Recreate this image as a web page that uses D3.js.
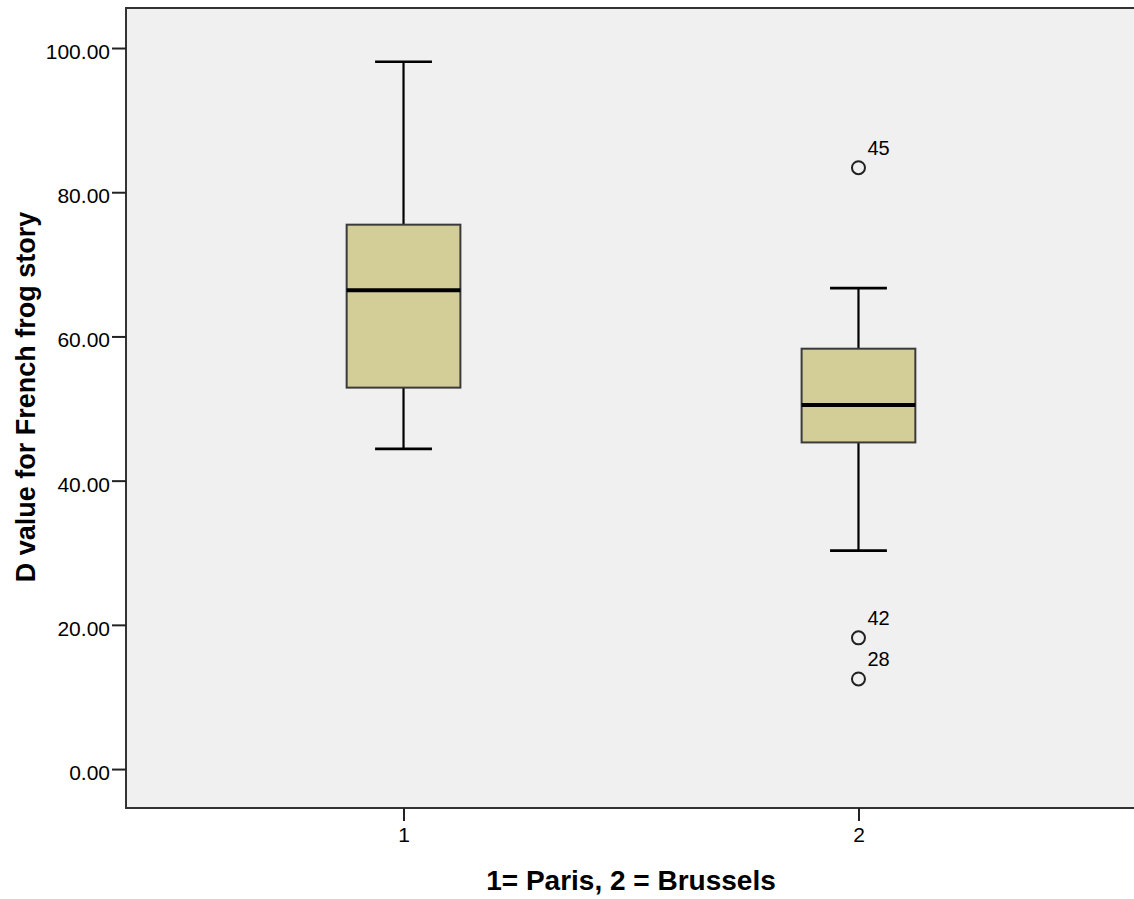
<!DOCTYPE html>
<html>
<head>
<meta charset="utf-8">
<script src="https://cdn.jsdelivr.net/npm/d3@7"></script>
<style>
  html, body { margin: 0; padding: 0; background: #ffffff; }
  svg { display: block; }
  text { font-family: "Liberation Sans", Arial, sans-serif; fill: #000; }
</style>
</head>
<body>
<svg id="chart" width="1134" height="899"></svg>
<script>
// ---- data ----
const categories = ["1", "2"];
const whiskerLow = [44.4, 30.3];
const q1 = [52.9, 45.3];
const median = [66.4, 50.5];
const q3 = [75.5, 58.3];
const whiskerHigh = [98.1, 66.7];
const outlierCats = ["2", "2", "2"];
const outlierValues = [83.4, 18.2, 12.5];
const outlierIds = ["45", "42", "28"];
const yTicks = [0, 20, 40, 60, 80, 100];
const xTitle = "1= Paris, 2 = Brussels";
const yTitle = "D value for French frog story";

// ---- layout ----
const svg = d3.select("#chart");
const pLeft = 126, pRight = 1136, pTop = 8, pBottom = 808;

const x = d3.scalePoint().domain(categories).range([pLeft, pRight]).padding(0.61);
const y = d3.scaleLinear().domain([-5.4, 105.55]).range([pBottom, pTop]);
const step = x.step();
const boxW = step * 0.25;
const capW = step * 0.125;

// plot background
svg.append("rect")
  .attr("x", pLeft).attr("y", pTop)
  .attr("width", pRight - pLeft).attr("height", pBottom - pTop)
  .attr("fill", "#f0f0f0");

const g = svg.append("g");

categories.forEach((c, i) => {
  const cx = x(c);
  g.append("line")
    .attr("x1", cx).attr("x2", cx)
    .attr("y1", y(whiskerHigh[i])).attr("y2", y(q3[i]))
    .attr("stroke", "#000").attr("stroke-width", 2.2);
  g.append("line")
    .attr("x1", cx).attr("x2", cx)
    .attr("y1", y(q1[i])).attr("y2", y(whiskerLow[i]))
    .attr("stroke", "#000").attr("stroke-width", 2.2);
  [whiskerHigh[i], whiskerLow[i]].forEach(v => {
    g.append("line")
      .attr("x1", cx - capW / 2).attr("x2", cx + capW / 2)
      .attr("y1", y(v)).attr("y2", y(v))
      .attr("stroke", "#000").attr("stroke-width", 2.6);
  });
  g.append("rect")
    .attr("x", cx - boxW / 2).attr("y", y(q3[i]))
    .attr("width", boxW).attr("height", y(q1[i]) - y(q3[i]))
    .attr("fill", "#d3ce97")
    .attr("stroke", "#3a3a3a").attr("stroke-width", 2);
  g.append("line")
    .attr("x1", cx - boxW / 2).attr("x2", cx + boxW / 2)
    .attr("y1", y(median[i])).attr("y2", y(median[i]))
    .attr("stroke", "#000").attr("stroke-width", 4);
});

// outliers
outlierValues.forEach((v, i) => {
  const cx = x(outlierCats[i]);
  g.append("circle")
    .attr("cx", cx).attr("cy", y(v)).attr("r", 6.5)
    .attr("fill", "none").attr("stroke", "#222").attr("stroke-width", 2);
  g.append("text")
    .attr("x", cx + 9).attr("y", y(v) - 13)
    .attr("font-size", 20)
    .text(outlierIds[i]);
});

// frame
svg.append("line").attr("x1", pLeft).attr("x2", pRight).attr("y1", pTop).attr("y2", pTop)
  .attr("stroke", "#333").attr("stroke-width", 2);
svg.append("line").attr("x1", pLeft).attr("x2", pRight).attr("y1", pBottom).attr("y2", pBottom)
  .attr("stroke", "#333").attr("stroke-width", 2);
svg.append("line").attr("x1", pLeft).attr("x2", pLeft).attr("y1", pTop - 1).attr("y2", pBottom + 1)
  .attr("stroke", "#333").attr("stroke-width", 2);

// y axis
const yAxis = d3.axisLeft(y).tickValues(yTicks).tickFormat(d3.format(".2f"))
  .tickSize(14).tickPadding(2);
const ya = svg.append("g").attr("transform", `translate(${pLeft},0)`).call(yAxis);
ya.select(".domain").remove();
ya.selectAll(".tick line").attr("stroke", "#222").attr("stroke-width", 2);
ya.selectAll(".tick text")
  .attr("font-size", 21).attr("font-family", "Liberation Sans, Arial, sans-serif")
  .attr("fill", "#111").attr("dy", "0.5em");

// x axis
const xAxis = d3.axisBottom(x).tickSize(13).tickPadding(6);
const xa = svg.append("g").attr("transform", `translate(0,${pBottom})`).call(xAxis);
xa.select(".domain").remove();
xa.selectAll(".tick line").attr("stroke", "#222").attr("stroke-width", 2);
xa.selectAll(".tick text")
  .attr("font-size", 21).attr("font-family", "Liberation Sans, Arial, sans-serif")
  .attr("fill", "#111");

// titles
svg.append("text")
  .attr("x", 631).attr("y", 890)
  .attr("text-anchor", "middle")
  .attr("font-size", 28).attr("font-weight", "bold")
  .text(xTitle);

svg.append("text")
  .attr("transform", `translate(35,397) rotate(-90)`)
  .attr("text-anchor", "middle")
  .attr("font-size", 27).attr("font-weight", "bold")
  .text(yTitle);
</script>
</body>
</html>
